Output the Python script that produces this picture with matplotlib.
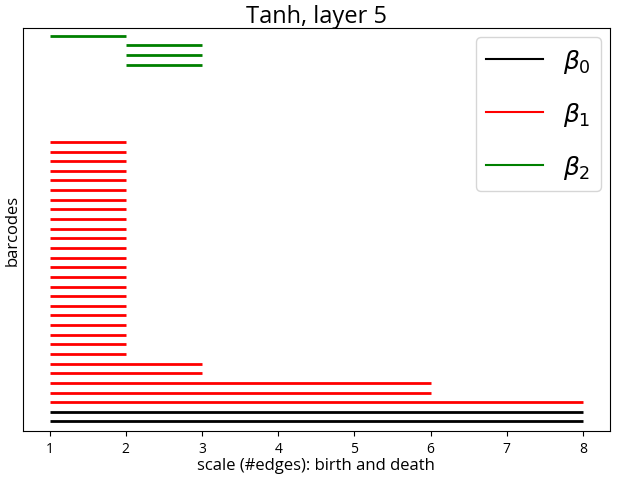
import matplotlib
matplotlib.use('Agg')
import matplotlib.pyplot as plt

plt.rcParams['font.family'] = ['Open Sans', 'DejaVu Sans']

# intervals (birth, death) per homology dimension
b0_birth = [1, 1]
b0_death = [8, 8]

b1_birth = [1] * 28 + [2] * 7
b1_death = [8, 6, 6, 3, 3] + [2] * 23 + [2] * 7   # last 7 have zero length

b2_birth = [2, 2, 2, 1]
b2_death = [3, 3, 3, 2]

x_ticks = [1, 2, 3, 4, 5, 6, 7, 8]

fig = plt.figure(figsize=(6.19, 4.85), dpi=100)
ax = fig.add_axes([0.037, 0.109, 0.948, 0.831])

y = 0
for births, deaths, col, lab in [(b0_birth, b0_death, 'black', r'$\beta_0$'),
                                  (b1_birth, b1_death, 'red', r'$\beta_1$'),
                                  (b2_birth, b2_death, 'green', r'$\beta_2$')]:
    ys = list(range(y, y + len(births)))
    ax.hlines(ys, births, deaths, colors=col, linewidth=2.0)
    ax.plot([], [], color=col, linewidth=1.5, label=lab)
    y += len(births)

ax.set_ylim(-1, 40.8)
ax.set_yticks([])
ax.set_xticks(x_ticks)
ax.tick_params(axis='x', labelsize=10)
ax.set_title('Tanh, layer 5', fontsize=17, pad=3)
ax.set_xlabel('scale (#edges): birth and death', fontsize=12, labelpad=1)
ax.set_ylabel('barcodes', fontsize=12, labelpad=2)
ax.legend(loc='upper right', fontsize=18, handlelength=2.3,
          labelspacing=1.0, borderaxespad=0.35)

fig.savefig('out.png', dpi=100)
